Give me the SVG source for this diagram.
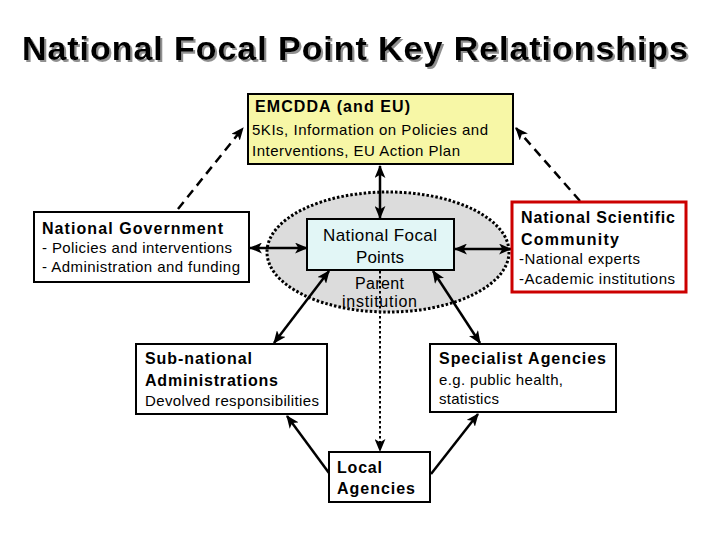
<svg xmlns="http://www.w3.org/2000/svg" width="720" height="540" viewBox="0 0 720 540">
<defs>
<style>
.t{font-family:"Liberation Sans",Arial,sans-serif;fill:#000}
.b{font-weight:bold;font-size:16px}
.r{font-size:15px}
.box{fill:#fff;stroke:#000;stroke-width:2}
.c{stroke:#000;stroke-width:2.5;fill:none}
.d{stroke-dasharray:9 6}
.o{stroke-dasharray:2.5 2.5;stroke-width:2}
</style>
<filter id="shadow" filterUnits="userSpaceOnUse" x="0" y="0" width="720" height="100">
<feDropShadow dx="2" dy="2" stdDeviation="0.6" flood-color="#909090" flood-opacity="1"/>
</filter>
<marker id="ah" viewBox="0 0 12 10" refX="11" refY="5" markerWidth="13" markerHeight="11" markerUnits="userSpaceOnUse" orient="auto-start-reverse">
<path d="M0,0 L12,5 L0,10 L3,5 z" fill="#000"/>
</marker>
</defs>
<rect width="720" height="540" fill="#fff"/>
<g id="title">
<text class="t" x="22" y="60" font-size="34" font-weight="bold" textLength="666" filter="url(#shadow)">National Focal Point Key Relationships</text>
</g>
<g id="parent-institution">
<ellipse cx="388" cy="252" rx="121" ry="60" fill="#dcdcdc" stroke="#000" stroke-width="3" stroke-dasharray="2.5 2"/>
<text class="t" x="355" y="289" font-size="16" textLength="49">Parent</text>
<text class="t" x="342" y="307" font-size="16" textLength="75">institution</text>
</g>
<g id="connectors">
<line class="c d" x1="178" y1="209" x2="243" y2="128" marker-end="url(#ah)"/>
<line class="c d" x1="580" y1="201" x2="516" y2="128" marker-end="url(#ah)"/>
<line class="c" x1="380" y1="166" x2="380" y2="218" marker-start="url(#ah)" marker-end="url(#ah)"/>
<line class="c" x1="250" y1="248" x2="307" y2="248" marker-start="url(#ah)" marker-end="url(#ah)"/>
<line class="c" x1="455" y1="249" x2="511" y2="249" marker-start="url(#ah)" marker-end="url(#ah)"/>
<line class="c" x1="329" y1="271" x2="274" y2="343" marker-start="url(#ah)" marker-end="url(#ah)"/>
<line class="c" x1="433" y1="271" x2="480" y2="343" marker-start="url(#ah)" marker-end="url(#ah)"/>
<line class="c o" x1="380" y1="271" x2="380" y2="451" marker-end="url(#ah)"/>
<line class="c" x1="329" y1="473" x2="287" y2="416" marker-end="url(#ah)"/>
<line class="c" x1="431" y1="474" x2="478" y2="414" marker-end="url(#ah)"/>
</g>
<g id="emcdda">
<rect x="248" y="94" width="265" height="70" fill="#f7f7a6" stroke="#000" stroke-width="2"/>
<text class="t b" x="255" y="112" textLength="155">EMCDDA (and EU)</text>
<text class="t r" x="252" y="135" textLength="236">5KIs, Information on Policies and</text>
<text class="t r" x="252" y="156" textLength="208">Interventions, EU Action Plan</text>
</g>
<g id="national-government">
<rect class="box" x="34" y="212" width="215" height="70"/>
<text class="t b" x="42" y="234" textLength="181">National Government</text>
<text class="t r" x="42" y="253" textLength="190">- Policies and interventions</text>
<text class="t r" x="42" y="272" textLength="198">- Administration and funding</text>
</g>
<g id="national-focal-points">
<rect x="307" y="219" width="147" height="51" fill="#e2f6f6" stroke="#000" stroke-width="2"/>
<text class="t" x="323" y="241" font-size="17" textLength="114">National Focal</text>
<text class="t" x="356" y="263" font-size="17" textLength="48">Points</text>
</g>
<g id="national-scientific-community">
<rect x="512" y="202" width="174" height="90" fill="#fff" stroke="#cc0000" stroke-width="3"/>
<text class="t b" x="521" y="223" textLength="154">National Scientific</text>
<text class="t b" x="521" y="245" textLength="98">Community</text>
<text class="t r" x="519" y="264" textLength="121">-National experts</text>
<text class="t r" x="519" y="284" textLength="156">-Academic institutions</text>
</g>
<g id="sub-national">
<rect class="box" x="136" y="344" width="191" height="70"/>
<text class="t b" x="145" y="364" textLength="107">Sub-national</text>
<text class="t b" x="145" y="386" textLength="133">Administrations</text>
<text class="t r" x="145" y="406" textLength="174">Devolved responsibilities</text>
</g>
<g id="specialist-agencies">
<rect class="box" x="430" y="344" width="186" height="68"/>
<text class="t b" x="439" y="364" textLength="167">Specialist Agencies</text>
<text class="t r" x="439" y="385" textLength="124">e.g. public health,</text>
<text class="t r" x="439" y="404" textLength="60">statistics</text>
</g>
<g id="local-agencies">
<rect class="box" x="329" y="452" width="101" height="50"/>
<text class="t b" x="337" y="473" textLength="45">Local</text>
<text class="t b" x="337" y="494" textLength="78">Agencies</text>
</g>
</svg>
